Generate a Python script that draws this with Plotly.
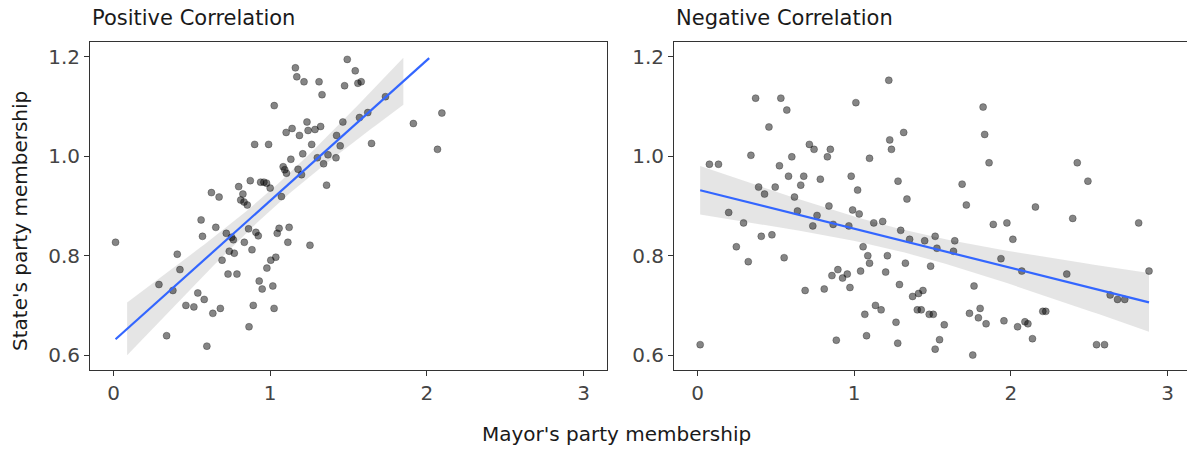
import numpy as np
import plotly.graph_objects as go

# ---- data -------------------------------------------------------------
pos_mayor = [
    1.492, 1.161, 1.170, 1.216, 1.312, 1.475, 1.331, 1.026, 1.235, 1.140,
    1.102, 1.187, 1.242, 1.286, 1.322, 1.464, 1.424, 1.447, 1.265, 0.901,
    0.990, 1.208, 1.132, 1.301, 1.369, 1.420, 1.341, 1.083, 1.093, 1.104,
    1.178, 1.200, 1.360, 0.873, 0.799, 0.939, 0.960, 0.977, 1.000, 0.826,
    0.625, 0.674, 0.812, 0.833, 0.854, 1.072, 1.543, 1.581, 1.560, 2.096,
    1.914, 2.068, 1.647, 1.736, 1.623, 1.570,
    0.013, 0.559, 0.653, 0.568, 0.720, 0.754, 0.765, 0.862, 0.909, 0.924,
    1.057, 1.045, 1.121, 1.113, 1.254, 0.835, 0.884, 0.739, 0.771, 0.407,
    0.693, 1.036, 1.004, 0.979, 0.424, 0.731, 0.788, 0.290, 0.379, 0.930,
    0.949, 1.017, 0.538, 0.579, 0.462, 0.513, 0.682, 0.634, 0.892, 1.025,
    0.865, 0.339, 0.596,
]
pos_state = [
    1.195, 1.178, 1.160, 1.150, 1.150, 1.142, 1.124, 1.102, 1.069, 1.056,
    1.048, 1.042, 1.052, 1.054, 1.060, 1.069, 1.042, 1.021, 1.024, 1.024,
    1.024, 1.005, 0.994, 0.997, 1.003, 0.997, 0.985, 0.979, 0.973, 0.966,
    0.974, 0.963, 0.942, 0.951, 0.939, 0.948, 0.948, 0.946, 0.936, 0.924,
    0.927, 0.918, 0.912, 0.908, 0.902, 0.919, 1.172, 1.150, 1.147, 1.087,
    1.066, 1.014, 1.026, 1.120, 1.088, 1.078,
    0.827, 0.872, 0.857, 0.839, 0.845, 0.837, 0.832, 0.854, 0.847, 0.840,
    0.855, 0.845, 0.857, 0.827, 0.821, 0.827, 0.812, 0.809, 0.805, 0.803,
    0.791, 0.797, 0.791, 0.775, 0.772, 0.763, 0.763, 0.742, 0.730, 0.749,
    0.733, 0.739, 0.725, 0.712, 0.700, 0.697, 0.694, 0.684, 0.700, 0.694,
    0.657, 0.639, 0.618,
]

neg_mayor = [
    0.371, 0.532, 0.570, 0.456, 1.011, 1.221, 1.227, 1.238, 0.341, 0.076,
    0.134, 0.523, 0.602, 0.714, 0.744, 0.848, 0.829, 1.098, 0.581, 0.678,
    0.784, 0.981, 1.022, 0.659, 0.390, 0.496, 0.428, 0.619, 0.839, 0.990,
    1.280, 1.316, 1.337, 1.689, 1.716, 1.823, 1.833, 1.861, 2.157, 2.424,
    2.492,
    0.199, 0.294, 0.248, 0.324, 0.407, 0.475, 0.553, 0.638, 0.763, 0.736,
    0.866, 0.966, 1.032, 1.125, 1.182, 1.057, 1.087, 1.098, 1.212, 1.201,
    1.041, 0.858, 0.896, 0.926, 0.956, 0.973, 0.687, 0.809, 1.136, 1.172,
    1.068, 1.079, 0.886, 0.017,
    2.395, 2.816, 1.888, 1.975, 1.297, 1.354, 1.450, 1.517, 1.528, 1.642,
    1.634, 2.013, 1.937, 1.327, 1.488, 2.070, 2.357, 2.882, 1.765, 1.289,
    1.373, 1.411, 1.439, 2.634, 2.681, 2.727, 1.403, 1.428, 1.479, 1.505,
    1.804, 1.736, 1.793, 1.842, 1.956, 1.267, 1.575, 2.043, 2.090, 2.109,
    2.204, 2.223, 2.138, 1.278, 1.545, 1.517, 1.757, 2.547, 2.598,
]
neg_state = [
    1.117, 1.117, 1.093, 1.059, 1.108, 1.153, 1.033, 1.014, 1.002, 0.984,
    0.984, 0.981, 0.999, 1.024, 1.014, 1.014, 0.999, 0.996, 0.960, 0.960,
    0.954, 0.960, 0.932, 0.942, 0.938, 0.938, 0.924, 0.918, 0.900, 0.892,
    0.950, 1.048, 0.914, 0.944, 0.902, 1.099, 1.044, 0.987, 0.898, 0.987,
    0.950,
    0.887, 0.866, 0.818, 0.788, 0.839, 0.842, 0.796, 0.890, 0.881, 0.860,
    0.863, 0.860, 0.884, 0.866, 0.869, 0.818, 0.800, 0.785, 0.800, 0.767,
    0.769, 0.760, 0.772, 0.755, 0.763, 0.736, 0.730, 0.733, 0.700, 0.691,
    0.682, 0.639, 0.630, 0.621,
    0.875, 0.866, 0.863, 0.866, 0.851, 0.833, 0.830, 0.839, 0.815, 0.830,
    0.809, 0.833, 0.794, 0.785, 0.779, 0.769, 0.763, 0.769, 0.739, 0.742,
    0.718, 0.724, 0.730, 0.721, 0.712, 0.712, 0.691, 0.691, 0.682, 0.682,
    0.694, 0.684, 0.675, 0.663, 0.669, 0.666, 0.661, 0.657, 0.667, 0.663,
    0.688, 0.688, 0.633, 0.624, 0.631, 0.612, 0.600, 0.621, 0.621,
]

panel_titles = ["Positive Correlation", "Negative Correlation"]
x_title = "Mayor's party membership"
y_title = "State's party membership"
x_ticks = [0, 1, 2, 3]
y_ticks = [0.6, 0.8, 1.0, 1.2]

# span of the smoother for the first panel (line and band)
pos_line_span = (0.013, 2.015)
pos_band_span = (0.087, 1.85)

# ---- styling ----------------------------------------------------------
W, H = 1187, 450
FONT = "DejaVu Sans"
POINT_FILL = "rgba(0,0,0,0.48)"
POINT_EDGE = "rgba(0,0,0,0.28)"
LINE_BLUE = "#3366FF"
BAND_FILL = "rgba(153,153,153,0.25)"
AXIS_COL = "#333333"

# panel boxes in pixels
left_px = (90, 607)
right_px = (674, 1191)
top_px, bottom_px = 42, 370


def ols_band(x, y, xs, t=1.984):
    x = np.asarray(x, float)
    y = np.asarray(y, float)
    n = len(x)
    b1, b0 = np.polyfit(x, y, 1)
    resid = y - (b0 + b1 * x)
    s = np.sqrt(np.sum(resid ** 2) / (n - 2))
    xbar = x.mean()
    sxx = np.sum((x - xbar) ** 2)
    fit = b0 + b1 * xs
    se = s * np.sqrt(1.0 / n + (xs - xbar) ** 2 / sxx)
    return fit, fit - t * se, fit + t * se


fig = go.Figure()


def add_panel(x, y, line_span, band_span, xa, ya):
    xb = np.linspace(band_span[0], band_span[1], 80)
    _, lo, hi = ols_band(x, y, xb)
    fig.add_trace(go.Scatter(x=xb, y=lo, mode="lines", line=dict(width=0),
                             hoverinfo="skip", showlegend=False, xaxis=xa, yaxis=ya))
    fig.add_trace(go.Scatter(x=xb, y=hi, mode="lines", line=dict(width=0),
                             fill="tonexty", fillcolor=BAND_FILL,
                             hoverinfo="skip", showlegend=False, xaxis=xa, yaxis=ya))
    fig.add_trace(go.Scatter(x=x, y=y, mode="markers",
                             marker=dict(size=7, color=POINT_FILL,
                                         line=dict(width=1, color=POINT_EDGE)),
                             showlegend=False, xaxis=xa, yaxis=ya))
    xl = np.linspace(line_span[0], line_span[1], 80)
    fit, _, _ = ols_band(x, y, xl)
    fig.add_trace(go.Scatter(x=xl, y=fit, mode="lines",
                             line=dict(color=LINE_BLUE, width=2.2),
                             showlegend=False, xaxis=xa, yaxis=ya))


add_panel(pos_mayor, pos_state, pos_line_span, pos_band_span, "x", "y")
neg_span = (min(neg_mayor), max(neg_mayor))
add_panel(neg_mayor, neg_state, neg_span, neg_span, "x2", "y2")

x_lo, x_hi = -0.15, 3.15
per_px = (x_hi - x_lo) / (left_px[1] - left_px[0])
right_hi = x_lo + per_px * (W - right_px[0])

ydom = [1 - bottom_px / H, 1 - top_px / H]
axis_common = dict(showgrid=False, zeroline=False, showline=True,
                   linecolor=AXIS_COL, linewidth=1, ticks="outside",
                   ticklen=5, tickwidth=1, tickcolor=AXIS_COL,
                   tickfont=dict(family=FONT, size=20, color="#444444"))

fig.update_layout(
    width=W, height=H, autosize=False,
    margin=dict(l=0, r=0, t=0, b=0),
    paper_bgcolor="white", plot_bgcolor="white",
    xaxis=dict(domain=[left_px[0] / W, left_px[1] / W], range=[x_lo, x_hi],
               tickvals=x_ticks, mirror=True, anchor="y", **axis_common),
    yaxis=dict(domain=ydom, range=[0.57, 1.23], tickvals=y_ticks,
               tickformat=".1f", mirror=True, anchor="x", **axis_common),
    xaxis2=dict(domain=[right_px[0] / W, 1.0], range=[x_lo, right_hi],
                tickvals=x_ticks, mirror=True, anchor="y2", **axis_common),
    yaxis2=dict(domain=ydom, range=[0.57, 1.23], tickvals=y_ticks,
                tickformat=".1f", mirror=False, anchor="x2", **axis_common),
)

title_font = dict(family=FONT, size=21, color="#1a1a1a")
fig.add_annotation(text=panel_titles[0], xref="paper", yref="paper",
                   x=left_px[0] / W, y=1 - 18 / H, xanchor="left", yanchor="middle",
                   showarrow=False, font=title_font)
fig.add_annotation(text=panel_titles[1], xref="paper", yref="paper",
                   x=right_px[0] / W, y=1 - 18 / H, xanchor="left", yanchor="middle",
                   showarrow=False, font=title_font)
fig.add_annotation(text=x_title, xref="paper", yref="paper",
                   x=617 / W, y=1 - 434 / H, xanchor="center", yanchor="middle",
                   showarrow=False, font=dict(family=FONT, size=20, color="#1a1a1a"))
fig.add_annotation(text=y_title, xref="paper", yref="paper",
                   x=20 / W, y=1 - 221 / H, xanchor="center", yanchor="middle",
                   textangle=-90, showarrow=False,
                   font=dict(family=FONT, size=20, color="#1a1a1a"))

fig.write_html("out.html")
